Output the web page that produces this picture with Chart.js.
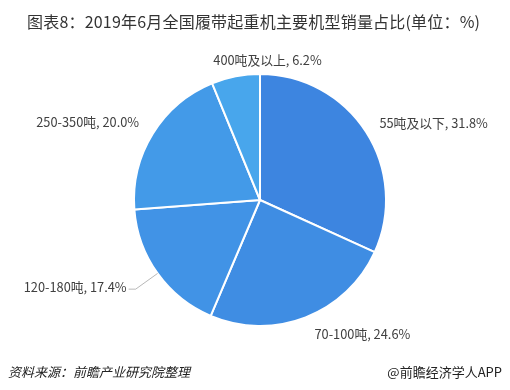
<!DOCTYPE html>
<html>
<head>
<meta charset="utf-8">
<script src="https://cdn.jsdelivr.net/npm/chart.js@4"></script>
<style>
  html, body { margin: 0; padding: 0; background: #fff; }
  #wrap { position: relative; width: 510px; height: 390px; overflow: hidden; }
  #title { position: absolute; left: 27px; top: 9px; font: 16px "Noto Sans CJK SC", sans-serif; color: #333; white-space: nowrap; letter-spacing: 0.2px; }
  #src { position: absolute; left: 8px; top: 362px; font: italic 13px "Noto Sans CJK SC", sans-serif; color: #222; white-space: nowrap; }
  #brand { position: absolute; right: 8px; top: 362px; font: 13px "Noto Sans CJK SC", sans-serif; color: #222; white-space: nowrap; }
  canvas { position: absolute; left: 0; top: 0; }
</style>
</head>
<body>
<div id="wrap">
  <canvas id="c" width="510" height="390"></canvas>
  <div id="title">图表8：2019年6月全国履带起重机主要机型销量占比(单位：%)</div>
  <div id="src">资料来源：前瞻产业研究院整理</div>
  <div id="brand">@前瞻经济学人APP</div>
</div>
<script>
const categories = ['55吨及以下', '70-100吨', '120-180吨', '250-350吨', '400吨及以上'];
const shares = [31.8, 24.6, 17.4, 20.0, 6.2];
const sliceColors = ['#3d85e0', '#3f8de3', '#4193e6', '#439ae8', '#48a6ec'];

const labelPlugin = {
  id: 'sliceLabels',
  afterDatasetsDraw(chart, args, opts) {
    const ctx = chart.ctx;
    const meta = chart.getDatasetMeta(0);
    ctx.save();
    ctx.font = opts.font;
    ctx.fillStyle = opts.color;
    meta.data.forEach((arc, i) => {
      const p = arc.getProps(['x', 'y', 'startAngle', 'endAngle', 'outerRadius'], true);
      const mid = (p.startAngle + p.endAngle) / 2;
      const c = Math.cos(mid), s = Math.sin(mid);
      const text = categories[i] + ', ' + shares[i].toFixed(1) + '%';
      const leader = opts.leader[i] || 0;
      const dist = leader ? leader : opts.gap;
      let px = p.x + c * (p.outerRadius + dist);
      let py = p.y + s * (p.outerRadius + dist);
      if (leader) {
        ctx.save();
        ctx.strokeStyle = '#a6a6a6';
        ctx.lineWidth = 0.8;
        ctx.beginPath();
        ctx.moveTo(p.x + c * p.outerRadius, p.y + s * p.outerRadius);
        ctx.lineTo(px, py);
        const hx = px + (c < 0 ? -7 : 7);
        ctx.lineTo(hx, py);
        ctx.stroke();
        ctx.restore();
        px = hx + (c < 0 ? -2 : 2);
        py -= 2;
      }
      const nudge = opts.nudge[i] || [0, 0];
      px += nudge[0]; py += nudge[1];
      ctx.textAlign = c > 0.3 ? 'left' : (c < -0.3 ? 'right' : 'center');
      ctx.textBaseline = Math.abs(s) < 0.7 ? 'middle' : (s < 0 ? 'bottom' : 'middle');
      ctx.fillText(text, px, py);
    });
    ctx.restore();
  }
};

new Chart(document.getElementById('c'), {
  type: 'pie',
  data: {
    labels: categories,
    datasets: [{
      data: shares,
      backgroundColor: sliceColors,
      borderColor: '#ffffff',
      borderWidth: 2
    }]
  },
  options: {
    responsive: false,
    animation: false,
    layout: { padding: { top: 73, bottom: 63, left: 133, right: 123 } },
    plugins: {
      legend: { display: false },
      tooltip: { enabled: false },
      sliceLabels: {
        font: '12.8px "Noto Sans CJK SC", sans-serif',
        color: '#404040',
        gap: 16,
        leader: { 2: 27 },
        nudge: { 1: [3, 2], 3: [0, -3], 4: [35, 6] }
      }
    }
  },
  plugins: [labelPlugin]
});
</script>
</body>
</html>
